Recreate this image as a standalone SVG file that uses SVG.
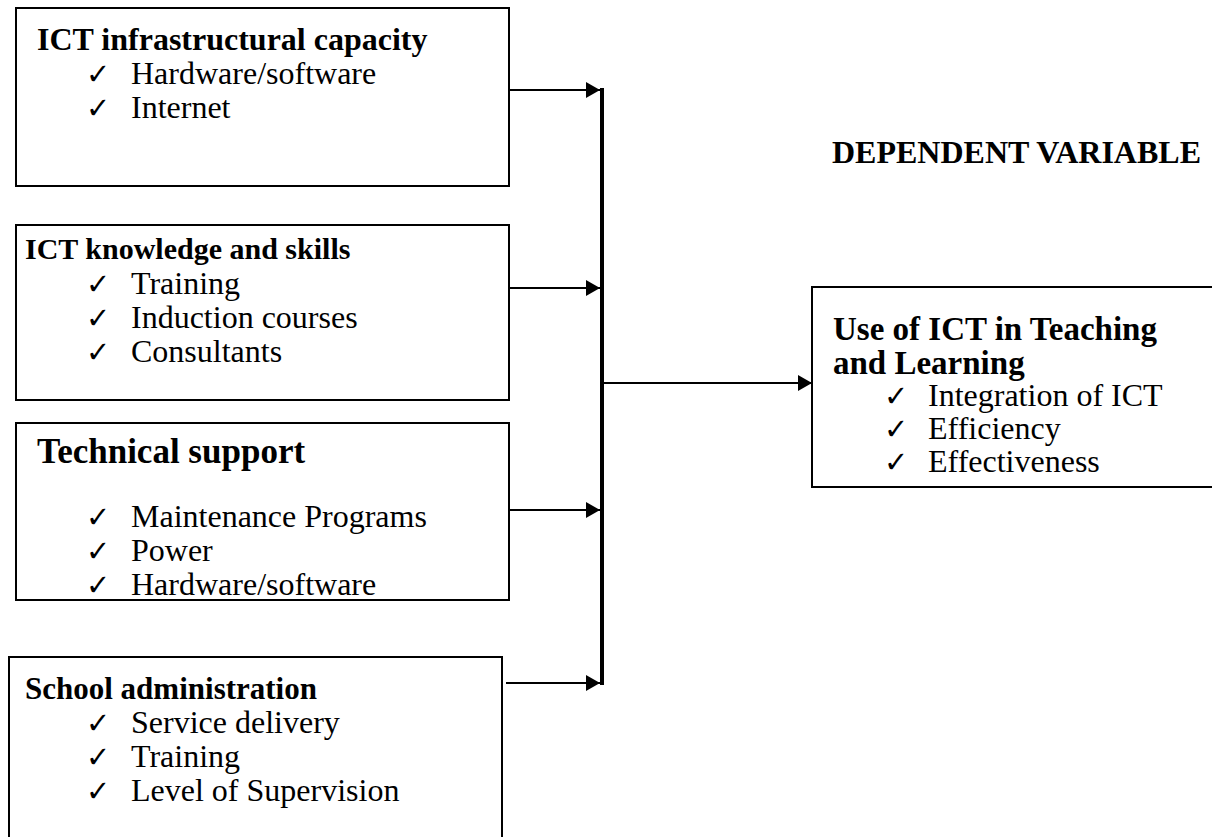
<svg xmlns="http://www.w3.org/2000/svg" width="1212" height="837" viewBox="0 0 1212 837">
<defs>
<marker id="ah" markerWidth="8" markerHeight="8" refX="7" refY="4" orient="auto" markerUnits="strokeWidth">
<path d="M0,0 L7,4 L0,8 Z" fill="#000"/>
</marker>
<style>
.box{fill:#fff;stroke:#000;stroke-width:2}
.t{font-family:"Liberation Serif","Times New Roman",serif;fill:#000}
.b{font-weight:bold}
.ck{font-family:"DejaVu Sans",sans-serif;font-size:29px;fill:#000}
.ln{stroke:#000;stroke-width:2;fill:none}
</style>
</defs>
<rect width="1212" height="837" fill="#fff"/>
<g id="n1">
<rect class="box" x="16" y="8" width="493" height="178"/>
<text class="t b" x="37" y="50" font-size="32">ICT infrastructural capacity</text>
<text class="ck" x="86" y="84">✓</text><text class="t" x="131" y="84" font-size="32">Hardware/software</text>
<text class="ck" x="86" y="118">✓</text><text class="t" x="131" y="118" font-size="32">Internet</text>
</g>
<g id="n2">
<rect class="box" x="16" y="225" width="493" height="175"/>
<text class="t b" x="25" y="259" font-size="30">ICT knowledge and skills</text>
<text class="ck" x="86" y="294">✓</text><text class="t" x="131" y="294" font-size="32">Training</text>
<text class="ck" x="86" y="328">✓</text><text class="t" x="131" y="328" font-size="32">Induction courses</text>
<text class="ck" x="86" y="362">✓</text><text class="t" x="131" y="362" font-size="32">Consultants</text>
</g>
<g id="n3">
<rect class="box" x="16" y="423" width="493" height="177"/>
<text class="t b" x="37" y="463" font-size="35">Technical support</text>
<text class="ck" x="86" y="527">✓</text><text class="t" x="131" y="527" font-size="32">Maintenance Programs</text>
<text class="ck" x="86" y="561">✓</text><text class="t" x="131" y="561" font-size="32">Power</text>
<text class="ck" x="86" y="595">✓</text><text class="t" x="131" y="595" font-size="32">Hardware/software</text>
</g>
<g id="n4">
<rect class="box" x="9" y="657" width="493" height="200"/>
<text class="t b" x="25" y="699" font-size="31">School administration</text>
<text class="ck" x="86" y="733">✓</text><text class="t" x="131" y="733" font-size="32">Service delivery</text>
<text class="ck" x="86" y="767">✓</text><text class="t" x="131" y="767" font-size="32">Training</text>
<text class="ck" x="86" y="801">✓</text><text class="t" x="131" y="801" font-size="32">Level of Supervision</text>
</g>
<g id="n5">
<rect class="box" x="812" y="287" width="420" height="200"/>
<text class="t b" x="833" y="340" font-size="33">Use of ICT in Teaching</text>
<text class="t b" x="833" y="374" font-size="33">and Learning</text>
<text class="ck" x="884" y="406">✓</text><text class="t" x="928" y="406" font-size="32">Integration of ICT</text>
<text class="ck" x="884" y="439">✓</text><text class="t" x="928" y="439" font-size="32">Efficiency</text>
<text class="ck" x="884" y="472">✓</text><text class="t" x="928" y="472" font-size="32">Effectiveness</text>
</g>
<g id="label">
<text class="t b" x="832" y="163" font-size="32">DEPENDENT VARIABLE</text>
</g>
<g id="connectors">
<line x1="602" y1="88" x2="602" y2="685" stroke="#000" stroke-width="4"/>
<line class="ln" x1="509" y1="90" x2="600" y2="90" marker-end="url(#ah)"/>
<line class="ln" x1="509" y1="288" x2="600" y2="288" marker-end="url(#ah)"/>
<line class="ln" x1="509" y1="510" x2="600" y2="510" marker-end="url(#ah)"/>
<line class="ln" x1="506" y1="683" x2="600" y2="683" marker-end="url(#ah)"/>
<line class="ln" x1="604" y1="383" x2="812" y2="383" marker-end="url(#ah)"/>
</g>
</svg>
